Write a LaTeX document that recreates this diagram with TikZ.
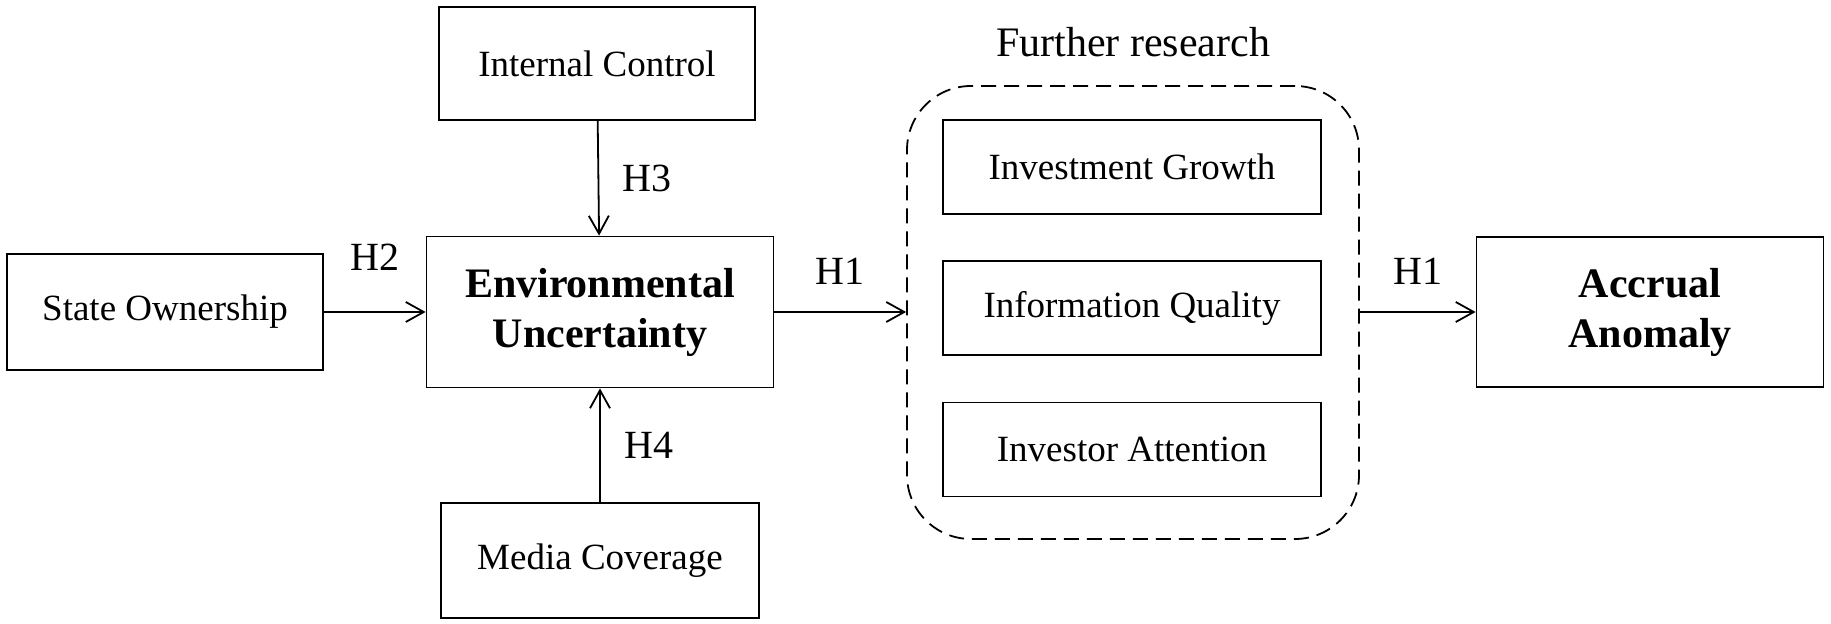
\documentclass[tikz,border=0pt]{standalone}
\usepackage{fontspec}
\setmainfont{Liberation Serif}
\usetikzlibrary{arrows.meta}
\tikzset{
  box/.style={draw, line width=0.9pt, align=center, font=\fontsize{18.5}{22}\selectfont},
  bigbox/.style={box, font=\fontsize{21}{25}\selectfont\bfseries},
  hyp/.style={font=\fontsize{20}{24}\selectfont},
}
\begin{document}
\begin{tikzpicture}[x=0.5pt, y=-0.5pt, >={Straight Barb[length=9pt,width=10pt]}, line width=0.9pt]
      \useasboundingbox (0,0) rectangle (1831,624);
      \node [box, minimum width=158pt, minimum height=58pt] (so) at (165,312) {State Ownership};
      \node [box, minimum width=158pt, minimum height=56.5pt] (ic) at (597,63.5) {Internal Control};
      \node [bigbox, minimum width=173.5pt, minimum height=75.5pt] (eu) at (600,312) {Environmental\\Uncertainty};
      \node [box, minimum width=159pt, minimum height=57.5pt] (mc) at (600,560.5) {Media Coverage};
      \node [draw, dashed, dash pattern=on 7.5pt off 4pt, rounded corners=32pt,
             minimum width=226pt, minimum height=226.5pt] (fr) at (1133,312.5) {};
      \node [font=\fontsize{21}{25}\selectfont] (frt) at (1133,42) {Further research};
      \node [box, minimum width=189pt, minimum height=47pt] (ig) at (1132,167) {Investment Growth};
      \node [box, minimum width=189pt, minimum height=47pt] (iq) at (1132,308) {Information Quality};
      \node [box, minimum width=189pt, minimum height=47pt] (ia) at (1132,449.5) {Investor Attention};
      \node [bigbox, minimum width=173.5pt, minimum height=75pt] (aa) at (1650,312) {Accrual\\Anomaly};
      \draw [->] (so) -- node [hyp,above=17pt,midway] {H2} (eu);
      \draw [->] (ic) -- node [hyp,right=8.5pt,midway] {H3} (eu);
      \draw [->] (mc) -- node [hyp,right=8.5pt,midway] {H4} (eu);
      \draw [->] (eu.east) -- node [hyp,above=10pt,midway] {H1} (eu.east -| fr.west);
      \draw [->] (aa.west -| fr.east) -- node [hyp,above=10pt,midway] {H1} (aa.west);
    \end{tikzpicture}
\end{document}
